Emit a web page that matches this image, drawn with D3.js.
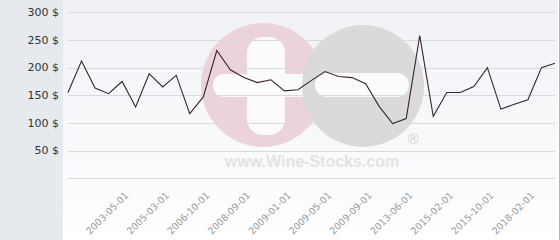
<!DOCTYPE html>
<html>
<head>
<meta charset="utf-8">
<script src="https://cdn.jsdelivr.net/npm/d3@7"></script>
<style>
  body { margin: 0; background: #fff; }
  svg { display: block; }
</style>
</head>
<body>
<div id="chart"></div>
<script>
// price per point, evenly spaced (categorical x axis)
var values = [155, 212, 163, 153, 175, 129, 189, 165, 186, 117,
              147, 231, 196, 182, 173, 178, 158, 160, 177, 193,
              184, 182, 171, 130, 99, 108, 258, 112, 155, 155,
              166, 200, 125, 134, 142, 200, 208];
var tickPos = [4, 7, 10, 13, 16, 19, 22, 25, 28, 31, 34];
var tickLabels = ['2003-05-01', '2005-03-01', '2006-10-01', '2008-09-01', '2009-01-01',
                  '2009-05-01', '2009-09-01', '2013-06-01', '2015-02-01', '2015-10-01', '2018-02-01'];
var yTicks = [0, 50, 100, 150, 200, 250, 300];

const width = 560;
const height = 240;

var svg = d3.select('#chart')
  .append('svg')
  .attr('width', width)
  .attr('height', height);

var defs = svg.append('defs');
var grad = defs.append('linearGradient')
  .attr('id', 'bg')
  .attr('x1', 0).attr('y1', 0).attr('x2', 0).attr('y2', 1);
grad.append('stop').attr('offset', '0%').attr('stop-color', '#eff1f5');
grad.append('stop').attr('offset', '100%').attr('stop-color', '#ffffff');

// left panel + plot panel
svg.append('rect').attr('x', 0).attr('y', 0).attr('width', 63).attr('height', height).attr('fill', '#e6eaee');
svg.append('rect').attr('x', 63).attr('y', 0).attr('width', 495).attr('height', height).attr('fill', 'url(#bg)');
svg.append('line').attr('x1', 559.5).attr('x2', 559.5).attr('y1', 0).attr('y2', height)
  .attr('stroke', '#b5b5b5');

var x = d3.scalePoint()
  .domain(d3.range(values.length))
  .range([68, 555]);

var y = d3.scaleLinear()
  .domain([0, 300])
  .range([178.3, 12.3]);

// watermark: plus on pink, then grey disc with minus on top
var wm = svg.append('g');
wm.append('circle').attr('cx', 263).attr('cy', 85).attr('r', 62).attr('fill', '#ebd3d9');
wm.append('rect').attr('x', 247).attr('y', 37).attr('width', 38).attr('height', 98).attr('rx', 16)
  .attr('fill', '#fbfbfc');
wm.append('rect').attr('x', 213).attr('y', 74).attr('width', 110).attr('height', 23).attr('rx', 11)
  .attr('fill', '#fbfbfc');
wm.append('circle').attr('cx', 363).attr('cy', 86).attr('r', 61).attr('fill', '#dadada');
wm.append('rect').attr('x', 315).attr('y', 73).attr('width', 94).attr('height', 24).attr('rx', 12)
  .attr('fill', '#fbfbfc');
wm.append('text').attr('x', 413).attr('y', 144).attr('text-anchor', 'middle')
  .attr('font-family', 'Liberation Sans, Arial, sans-serif').attr('font-size', 15)
  .attr('fill', '#d2d2d2').text('®');
wm.append('text').attr('x', 312).attr('y', 167).attr('text-anchor', 'middle')
  .attr('font-family', 'Liberation Sans, Arial, sans-serif').attr('font-weight', 'bold')
  .attr('font-size', 16).attr('fill', '#e3e3e3').text('www.Wine-Stocks.com');

// gridlines
svg.append('g').selectAll('line')
  .data(yTicks)
  .enter()
  .append('line')
  .attr('x1', 68).attr('x2', 555)
  .attr('y1', function(d) { return Math.round(y(d)) + 0.5; })
  .attr('y2', function(d) { return Math.round(y(d)) + 0.5; })
  .attr('stroke', '#d9dadf');

// y labels
svg.append('g').selectAll('text')
  .data(yTicks.filter(function(d) { return d > 0; }))
  .enter()
  .append('text')
  .attr('x', 59)
  .attr('y', function(d) { return y(d); })
  .attr('dy', '0.35em')
  .attr('text-anchor', 'end')
  .attr('font-family', 'DejaVu Sans, sans-serif')
  .attr('font-size', 11)
  .attr('fill', '#333')
  .text(function(d) { return d + ' $'; });

// x labels
svg.append('g').selectAll('text')
  .data(tickPos)
  .enter()
  .append('text')
  .attr('transform', function(d) { return 'translate(' + (x(d) + 7) + ',196) rotate(-45)'; })
  .attr('text-anchor', 'end')
  .attr('font-family', 'DejaVu Sans, sans-serif')
  .attr('font-size', 9.5)
  .attr('fill', '#9a9a9a')
  .text(function(d, i) { return tickLabels[i]; });

// price line
var line = d3.line()
  .x(function(d, i) { return x(i); })
  .y(function(d) { return y(d); });

svg.append('path')
  .datum(values)
  .attr('d', line)
  .attr('fill', 'none')
  .attr('stroke', '#3b2230')
  .attr('stroke-width', 1.1);
</script>
</body>
</html>
